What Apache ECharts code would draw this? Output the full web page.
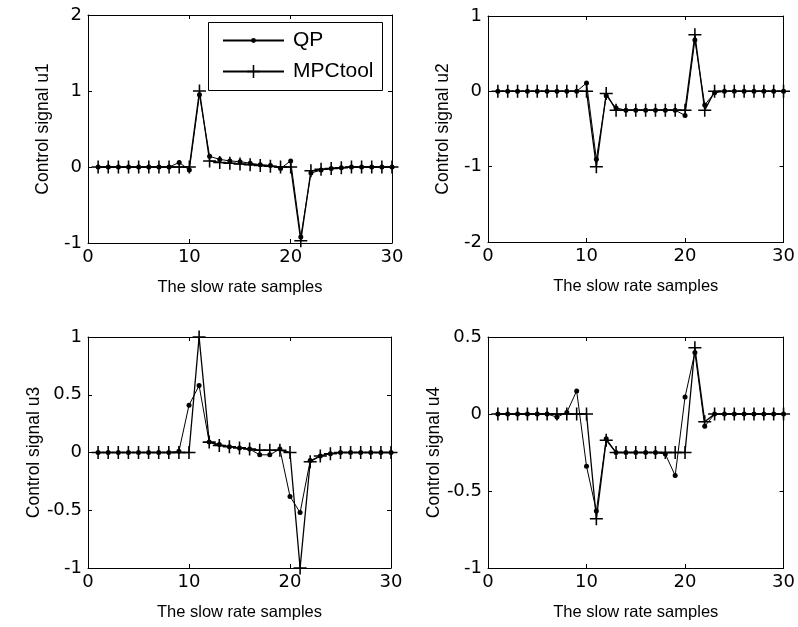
<!DOCTYPE html>
<html>
<head>
<meta charset="utf-8">
<script src="https://cdn.jsdelivr.net/npm/echarts@6/dist/echarts.min.js"></script>
<style>
html,body{margin:0;padding:0;background:#fff;}
#c{width:798px;height:627px;}
</style>
</head>
<body>
<div id="c"></div>
<script>
// ---- data ----
const samples = [1,2,3,4,5,6,7,8,9,10,11,12,13,14,15,16,17,18,19,20,21,22,23,24,25,26,27,28,29,30];
const xTicks = [0, 10, 20, 30];

const u1QP  = [0,0,0,0,0,0,0,0,0.06,-0.04,0.95,0.14,0.10,0.08,0.07,0.05,0.03,0.02,-0.02,0.08,-0.92,-0.08,-0.04,-0.02,-0.01,0,0,0,0,0];
const u1MPC = [0,0,0,0,0,0,0,0,0,0,1.0,0.08,0.06,0.05,0.04,0.03,0.02,0.01,0,0,-0.97,-0.05,-0.03,-0.02,-0.01,0,0,0,0,0];

const u2QP  = [0,0,0,0,0,0,0,0,0,0.11,-0.90,-0.06,-0.22,-0.25,-0.25,-0.25,-0.25,-0.25,-0.25,-0.32,0.68,-0.18,-0.02,0,0,0,0,0,0,0];
const u2MPC = [0,0,0,0,0,0,0,0,0,0,-1.0,-0.03,-0.25,-0.25,-0.25,-0.25,-0.25,-0.25,-0.25,-0.25,0.75,-0.25,0,0,0,0,0,0,0,0];

const u3QP  = [0,0,0,0,0,0,0,0,0.01,0.41,0.58,0.09,0.07,0.05,0.04,0.03,-0.02,-0.02,0.03,-0.38,-0.52,-0.07,-0.03,-0.01,0,0,0,0,0,0];
const u3MPC = [0,0,0,0,0,0,0,0,0,0,1.0,0.09,0.06,0.05,0.04,0.03,0.02,0.02,0.02,0,-1.0,-0.08,-0.03,-0.01,0,0,0,0,0,0];

const u4QP  = [0,0,0,0,0,0,-0.02,0.01,0.15,-0.34,-0.63,-0.16,-0.25,-0.25,-0.25,-0.25,-0.25,-0.26,-0.40,0.11,0.40,-0.08,0,0,0,0,0,0,0,0];
const u4MPC = [0,0,0,0,0,0,0,0,0,0,-0.68,-0.17,-0.25,-0.25,-0.25,-0.25,-0.25,-0.25,-0.25,-0.25,0.43,-0.05,0,0,0,0,0,0,0,0];

const yNames = ['Control signal u1','Control signal u2','Control signal u3','Control signal u4'];
const yRanges = [[-1,2,1],[-2,1,1],[-1,1,0.5],[-1,0.5,0.5]];
const xName = 'The slow rate samples';
const seriesNames = ['QP','MPCtool'];
const qpData = [u1QP,u2QP,u3QP,u4QP];
const mpcData = [u1MPC,u2MPC,u3MPC,u4MPC];

// ---- layout ----
const grids = [
  {left:88, top:15, width:304, height:228},
  {left:488, top:16, width:297, height:226},
  {left:88, top:337, width:303, height:231},
  {left:488, top:337, width:298, height:231}
];
const NAME_FONT = "'Liberation Sans', Arial, sans-serif";
const TICK_FONT = "'DejaVu Sans', sans-serif";
const LEG_FONT = "'Liberation Sans', Arial, sans-serif";
const plusPath = 'path://M4.4,0 H5.6 V4.4 H10 V5.6 H5.6 V10 H4.4 V5.6 H0 V4.4 H4.4 Z';

const xAxes = [], yAxes = [], series = [];
grids.forEach((g, i) => {
  const common = {
    gridIndex: i, type: 'value',
    axisLine: {show: true, onZero: false, lineStyle: {color: '#000', width: 1}},
    axisTick: {show: true, inside: true, length: 4, lineStyle: {color: '#000'}},
    splitLine: {show: false}
  };
  xAxes.push(Object.assign({}, common, {
    position: 'bottom', min: xTicks[0], max: xTicks[xTicks.length-1], interval: 10,
    name: xName, nameLocation: 'middle', nameGap: 36,
    nameTextStyle: {fontFamily: NAME_FONT, fontSize: 16.5, color: '#000'},
    axisLabel: {fontFamily: TICK_FONT, fontSize: 18, color: '#000', margin: 5}
  }));
  xAxes.push(Object.assign({}, common, {
    position: 'top', min: 0, max: 30, interval: 10, axisLabel: {show: false}
  }));
  const r = yRanges[i];
  yAxes.push(Object.assign({}, common, {
    position: 'left', min: r[0], max: r[1], interval: r[2],
    name: yNames[i], nameLocation: 'middle', nameGap: 36,
    nameTextStyle: {fontFamily: NAME_FONT, fontSize: 17.5, color: '#000'},
    axisLabel: {fontFamily: TICK_FONT, fontSize: 18, color: '#000', margin: 6}
  }));
  yAxes.push(Object.assign({}, common, {
    position: 'right', min: r[0], max: r[1], interval: r[2], axisLabel: {show: false}
  }));
  series.push({
    name: seriesNames[0], type: 'line', xAxisIndex: 2*i, yAxisIndex: 2*i,
    data: samples.map((s, k) => [s, qpData[i][k]]),
    symbol: 'circle', symbolSize: 5, clip: false,
    lineStyle: {color: '#000', width: 1}, itemStyle: {color: '#000'},
    emphasis: {disabled: true}, animation: false
  });
  series.push({
    name: seriesNames[1], type: 'line', xAxisIndex: 2*i, yAxisIndex: 2*i,
    data: samples.map((s, k) => [s, mpcData[i][k]]),
    symbol: plusPath, symbolSize: 13, clip: false,
    lineStyle: {color: '#000', width: 1.3}, itemStyle: {color: '#000'},
    emphasis: {disabled: true}, animation: false
  });
});

const legendCommon = {
  orient: 'vertical', left: 222, padding: 0,
  itemWidth: 61, selectedMode: false,
  textStyle: {fontFamily: LEG_FONT, fontSize: 21, color: '#000', padding: [0,0,0,4]}
};

const chart = echarts.init(document.getElementById('c'), null, {renderer: 'canvas'});
chart.setOption({
  backgroundColor: '#fff',
  animation: false,
  grid: grids,
  xAxis: xAxes,
  yAxis: yAxes,
  legend: [
    Object.assign({}, legendCommon, {data: [seriesNames[0]], top: 30, itemHeight: 6}),
    Object.assign({}, legendCommon, {data: [seriesNames[1]], top: 61, itemHeight: 16})
  ],
  graphic: [{
    type: 'rect', z: 3,
    shape: {x: 208.5, y: 22.5, width: 174, height: 68},
    style: {fill: '#fff', stroke: '#000', lineWidth: 1}
  }],
  series: series
});
</script>
</body>
</html>
